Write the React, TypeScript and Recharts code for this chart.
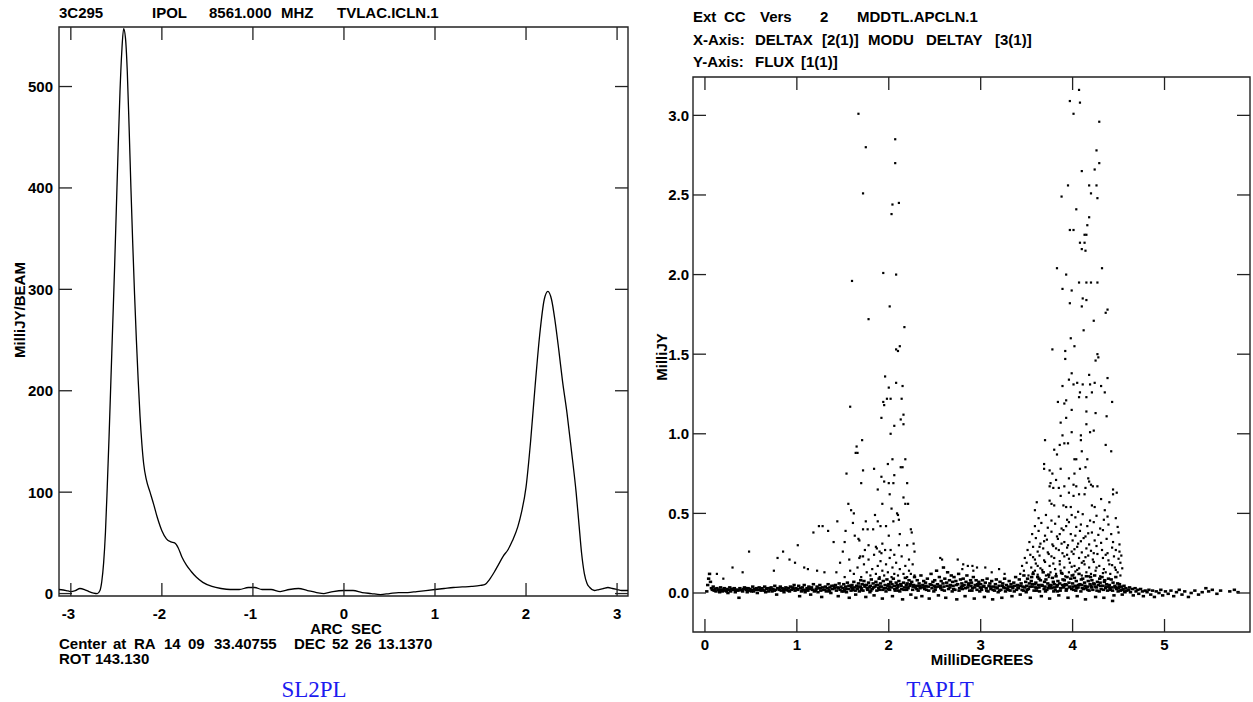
import { LineChart, Line, ScatterChart, Scatter, XAxis, YAxis, ReferenceArea } from "recharts";

// ---- left panel: slice profile (ARC SEC vs MilliJY/BEAM)
const SLICE_X = [
  -3.13, -3.05, -3.0, -2.95, -2.9, -2.85, -2.8, -2.75, -2.71, -2.68, -2.66, -2.64, -2.62, -2.6, -2.58,
  -2.56, -2.54, -2.52, -2.5, -2.48, -2.46, -2.44, -2.42, -2.4, -2.38, -2.36, -2.34, -2.32, -2.3, -2.28,
  -2.26, -2.24, -2.22, -2.2, -2.17, -2.13, -2.09, -2.05, -2.0, -1.95, -1.9, -1.86, -1.82, -1.78, -1.73,
  -1.68, -1.62, -1.55, -1.45, -1.35, -1.25, -1.15, -1.05, -0.98, -0.9, -0.8, -0.7, -0.6, -0.5, -0.4,
  -0.3, -0.22, -0.12, 0.0, 0.1, 0.2, 0.3, 0.4, 0.5, 0.6, 0.7, 0.8, 0.9, 1.0, 1.1, 1.2, 1.3, 1.4, 1.5,
  1.55, 1.6, 1.65, 1.7, 1.75, 1.8, 1.85, 1.91, 1.95, 2.0, 2.05, 2.1, 2.15, 2.2, 2.24, 2.28, 2.32, 2.36,
  2.4, 2.45, 2.5, 2.55, 2.58, 2.61, 2.64, 2.67, 2.7, 2.75, 2.8, 2.85, 2.9, 2.95, 3.0, 3.05, 3.12,
];
const SLICE_Y = [
  4, 3, 2, 3, 5, 4, 2, 0.5, 0, 3, 12, 30, 60, 105, 155,
  210, 265, 320, 380, 440, 495, 535, 557, 548, 515, 460, 400, 345, 295, 250,
  210, 175, 148, 128, 112, 100, 88, 75, 62, 54, 51, 50, 45, 36, 28,
  22, 16, 11, 7, 5, 4, 4, 6, 6, 4, 4, 2, 4, 5, 3,
  1, 0, 2, 3, 3, 1, 0, -1, 0, 1, 1, 2, 3, 4, 5, 6, 6.5, 7, 8,
  9, 14, 21, 29, 37, 43, 52, 66, 80, 105, 150, 205, 255, 290, 298, 290, 268, 240,
  210, 178, 140, 100, 70, 40, 20, 10, 6, 3, 4, 5, 6, 5, 4, 3, 3,
];
const ARC_TICKS = [-3, -2, -1, 0, 1, 2, 3];
const BEAM_TICKS = [0, 100, 200, 300, 400, 500];

// ---- right panel: clean components, flux vs radius (x, y pairs)
const BAND = [
  0.02, 0.01, 0.03, 0.05, 0.04, 0.09, 0.05, 0.12, 0.06, 0.07, 0.07, 0.03, 0.08, 0.02, 0.09, 0.04, 0.1, 0.015,
  0.11, 0.025, 0.12, 0.01, 0.13, 0.03, 0.15, 0.02, 0.16, 0.005, 0.17, 0.035, 0.18, 0.02, 0.19, 0.01,
  0.21, 0.03, 0.22, 0.015, 0.24, 0.025, 0.25, 0.0, 0.26, 0.02, 0.27, 0.035, 0.28, 0.01, 0.29, 0.025,
  0.31, 0.02, 0.32, 0.03, 0.33, 0.005, 0.34, 0.02, 0.36, 0.015, 0.37, -0.03, 0.38, 0.03, 0.39, 0.02,
  0.41, 0.01, 0.42, 0.025, 0.43, 0.035, 0.45, 0.02, 0.46, 0.005, 0.47, 0.03, 0.48, 0.015, 0.49, 0.025,
  0.51, 0.02, 0.52, 0.04, 0.53, 0.01, 0.54, 0.025, 0.56, 0.03, 0.57, 0.0, 0.58, 0.02, 0.59, 0.035,
  0.61, 0.015, 0.62, 0.03, 0.63, 0.02, 0.65, 0.04, 0.66, 0.005, 0.67, 0.025, 0.68, 0.03, 0.69, 0.01,
  0.71, 0.02, 0.72, 0.035, 0.73, 0.01, 0.74, 0.025, 0.76, 0.045, 0.77, 0.02, 0.78, -0.01, 0.79, 0.03,
  0.81, 0.02, 0.82, 0.04, 0.83, 0.015, 0.84, 0.03, 0.86, 0.005, 0.87, 0.025, 0.88, 0.035, 0.89, 0.02,
  0.91, 0.03, 0.92, 0.01, 0.93, 0.04, 0.94, 0.02, 0.96, 0.025, 0.97, 0.05, 0.98, 0.015, 0.99, 0.03,
  1.01, 0.02, 1.02, 0.045, 1.03, -0.02, 1.04, 0.03, 1.05, 0.01, 1.06, 0.035, 1.07, 0.02, 1.08, 0.05, 1.09, 0.005,
  1.11, 0.03, 1.12, 0.015, 1.13, 0.04, 1.14, 0.025, 1.15, -0.01, 1.16, 0.035, 1.17, 0.02, 1.18, 0.055, 1.19, 0.01,
  1.21, 0.025, 1.22, 0.04, 1.23, 0.005, 1.24, 0.03, 1.25, 0.05, 1.26, 0.015, 1.27, -0.025, 1.28, 0.035, 1.29, 0.02,
  1.31, 0.04, 1.32, 0.01, 1.33, 0.03, 1.34, 0.055, 1.35, 0.02, 1.36, 0.035, 1.37, 0.0, 1.38, 0.045, 1.39, 0.025,
  1.41, 0.03, 1.42, 0.05, 1.43, 0.015, 1.44, 0.035, 1.45, -0.02, 1.46, 0.06, 1.47, 0.02, 1.48, 0.04, 1.49, 0.01,
  1.5, 0.03, 1.51, 0.055, 1.52, 0.02, 1.53, 0.04, 1.54, 0.005, 1.55, 0.065, 1.56, 0.025, 1.57, -0.03, 1.58, 0.045, 1.59, 0.015, 1.595, 0.035,
  1.6, 0.05, 1.61, 0.02, 1.62, 0.07, 1.63, 0.035, 1.64, -0.01, 1.65, 0.045, 1.66, 0.025, 1.67, 0.06, 1.68, 0.01, 1.69, 0.04, 1.695, 0.08,
  1.7, 0.03, 1.71, 0.055, 1.72, 0.015, 1.73, 0.075, 1.74, 0.04, 1.75, -0.025, 1.76, 0.05, 1.77, 0.02, 1.78, 0.065, 1.79, 0.035, 1.795, 0.005,
  1.8, 0.045, 1.81, 0.085, 1.82, 0.025, 1.83, 0.06, 1.84, -0.015, 1.85, 0.04, 1.86, 0.07, 1.87, 0.015, 1.88, 0.05, 1.89, 0.03, 1.895, 0.09,
  1.9, 0.02, 1.91, 0.06, 1.92, 0.04, 1.93, -0.035, 1.94, 0.075, 1.95, 0.03, 1.96, 0.05, 1.97, 0.01, 1.98, 0.085, 1.99, 0.045, 1.995, 0.025,
  2.0, 0.055, 2.01, 0.02, 2.02, 0.07, 2.03, 0.035, 2.04, -0.02, 2.05, 0.09, 2.06, 0.045, 2.07, 0.015, 2.08, 0.065, 2.09, 0.03, 2.095, 0.05,
  2.1, 0.04, 2.11, 0.075, 2.12, 0.01, 2.13, 0.055, 2.14, 0.025, 2.15, -0.04, 2.16, 0.065, 2.17, 0.035, 2.18, 0.095, 2.19, 0.05, 2.195, 0.02,
  2.2, 0.06, 2.21, 0.03, 2.22, 0.08, 2.23, 0.045, 2.24, -0.01, 2.25, 0.07, 2.26, 0.02, 2.27, 0.05, 2.28, 0.1, 2.29, 0.035, 2.295, -0.03,
  2.3, 0.045, 2.31, 0.08, 2.32, 0.015, 2.33, 0.06, 2.34, 0.03, 2.35, 0.11, 2.36, -0.02, 2.37, 0.05, 2.38, 0.075, 2.39, 0.025, 2.395, 0.04,
  2.4, 0.065, 2.41, 0.02, 2.42, 0.09, 2.43, 0.04, 2.44, -0.035, 2.45, 0.055, 2.46, 0.12, 2.47, 0.03, 2.48, 0.07, 2.49, 0.01, 2.495, 0.045,
  2.5, 0.08, 2.51, 0.035, 2.52, 0.14, 2.53, 0.055, 2.54, -0.015, 2.55, 0.1, 2.56, 0.045, 2.57, 0.075, 2.58, 0.02, 2.59, 0.06, 2.595, 0.16,
  2.6, 0.04, 2.61, 0.09, 2.62, -0.03, 2.63, 0.065, 2.64, 0.13, 2.65, 0.025, 2.66, 0.08, 2.67, 0.05, 2.68, 0.11, 2.69, 0.01, 2.695, 0.07,
  2.7, 0.045, 2.71, 0.1, 2.72, 0.02, 2.73, 0.075, 2.74, -0.04, 2.75, 0.055, 2.76, 0.12, 2.77, 0.03, 2.78, 0.085, 2.79, 0.04, 2.795, 0.06,
  2.8, 0.025, 2.81, 0.09, 2.82, 0.05, 2.83, -0.02, 2.84, 0.07, 2.85, 0.11, 2.86, 0.035, 2.87, 0.06, 2.88, 0.015, 2.89, 0.08, 2.895, 0.045,
  2.9, 0.065, 2.91, 0.03, 2.92, 0.1, 2.93, -0.035, 2.94, 0.05, 2.95, 0.08, 2.96, 0.02, 2.97, 0.045, 2.98, 0.07, 2.99, 0.01, 2.995, 0.035,
  3.0, 0.055, 3.01, 0.02, 3.02, 0.08, 3.03, 0.04, 3.04, -0.025, 3.05, 0.065, 3.06, 0.03, 3.07, 0.09, 3.08, 0.01, 3.09, 0.045,
  3.1, 0.06, 3.11, 0.025, 3.12, 0.075, 3.13, -0.04, 3.14, 0.04, 3.15, 0.015, 3.16, 0.055, 3.17, 0.085, 3.18, 0.03, 3.19, 0.005,
  3.2, 0.045, 3.21, 0.07, 3.22, 0.02, 3.23, -0.03, 3.24, 0.06, 3.25, 0.035, 3.26, 0.09, 3.27, 0.01, 3.28, 0.05, 3.29, 0.025,
  3.3, 0.04, 3.31, 0.075, 3.32, 0.015, 3.33, 0.055, 3.34, -0.02, 3.35, 0.03, 3.36, 0.065, 3.37, 0.045, 3.38, 0.1, 3.39, 0.02,
  3.4, 0.05, 3.41, 0.03, 3.42, 0.085, 3.43, -0.01, 3.44, 0.06, 3.45, 0.02, 3.46, 0.04, 3.47, 0.11, 3.48, 0.035, 3.49, 0.07, 3.495, 0.005,
  3.5, 0.045, 3.51, 0.09, 3.52, 0.025, 3.53, 0.06, 3.54, -0.03, 3.55, 0.075, 3.56, 0.04, 3.57, 0.12, 3.58, 0.015, 3.59, 0.055, 3.595, 0.035, 3.555, 0.1,
  3.6, 0.065, 3.61, 0.03, 3.62, 0.1, 3.63, 0.05, 3.64, 0.01, 3.65, 0.08, 3.66, -0.02, 3.67, 0.045, 3.68, 0.13, 3.69, 0.025, 3.695, 0.07, 3.635, 0.09,
  3.7, 0.04, 3.71, 0.085, 3.72, 0.02, 3.73, 0.06, 3.74, 0.115, 3.75, -0.035, 3.76, 0.05, 3.77, 0.03, 3.78, 0.095, 3.79, 0.07, 3.795, 0.01, 3.745, 0.045,
  3.8, 0.055, 3.81, 0.02, 3.82, 0.105, 3.83, 0.04, 3.84, 0.075, 3.85, -0.015, 3.86, 0.06, 3.87, 0.03, 3.88, 0.125, 3.89, 0.05, 3.895, 0.085, 3.835, 0.01,
  3.9, 0.035, 3.91, 0.08, 3.92, 0.055, 3.93, 0.015, 3.94, 0.1, 3.95, -0.03, 3.96, 0.065, 3.97, 0.04, 3.98, 0.09, 3.99, 0.025, 3.995, 0.11, 3.935, 0.05,
  4.0, 0.06, 4.01, 0.02, 4.02, 0.095, 4.03, 0.045, 4.04, 0.075, 4.05, -0.02, 4.06, 0.035, 4.07, 0.12, 4.08, 0.055, 4.09, 0.01, 4.095, 0.085, 4.045, 0.03,
  4.1, 0.05, 4.11, 0.09, 4.12, 0.025, 4.13, 0.065, 4.14, -0.04, 4.15, 0.105, 4.16, 0.04, 4.17, 0.075, 4.18, 0.015, 4.19, 0.055, 4.195, 0.1, 4.145, 0.03,
  4.2, 0.045, 4.21, 0.08, 4.22, 0.02, 4.23, 0.06, 4.24, 0.11, 4.25, -0.025, 4.26, 0.035, 4.27, 0.07, 4.28, 0.05, 4.29, 0.01, 4.295, 0.09, 4.245, 0.04,
  4.3, 0.065, 4.31, 0.025, 4.32, 0.1, 4.33, 0.045, 4.34, -0.03, 4.35, 0.08, 4.36, 0.03, 4.37, 0.055, 4.38, 0.015, 4.39, 0.09, 4.395, 0.04, 4.345, 0.07,
  4.4, 0.05, 4.41, 0.02, 4.42, 0.085, 4.43, 0.035, 4.44, 0.065, 4.45, -0.015, 4.46, 0.045, 4.47, 0.1, 4.48, 0.025, 4.49, 0.06, 4.495, 0.01, 4.435, -0.05,
  4.5, 0.03, 4.51, 0.055, 4.52, 0.015, 4.53, 0.04, 4.54, -0.01, 4.55, 0.025, 4.56, 0.045, 4.57, 0.005, 4.58, 0.03, 4.59, 0.015,
];
// extra points inside the dark core of the band
const CORE = [
  0.145, 0.02, 0.205, 0.02, 0.235, 0.01, 0.305, 0.025, 0.355, 0.02, 0.405, 0.015, 0.445, 0.03, 0.505, 0.01, 0.555, 0.02,
  0.605, 0.025, 0.645, 0.015, 0.705, 0.03, 0.755, 0.015, 0.805, 0.03, 0.855, 0.02, 0.905, 0.015, 0.955, 0.035, 1.005, 0.025,
  1.055, 0.015, 1.105, 0.02, 1.155, 0.03, 1.205, 0.015, 1.255, 0.03, 1.305, 0.02, 1.355, 0.01, 1.405, 0.045, 1.455, 0.03,
  1.505, 0.01, 1.535, 0.025, 1.565, 0.045, 1.605, 0.03, 1.635, 0.015, 1.665, 0.04, 1.705, 0.02, 1.735, 0.05, 1.765, 0.03,
  1.805, 0.015, 1.835, 0.035, 1.865, 0.05, 1.905, 0.04, 1.935, 0.02, 1.965, 0.03, 2.005, 0.04, 2.035, 0.055, 2.065, 0.025,
  2.105, 0.015, 2.135, 0.045, 2.165, 0.02, 2.205, 0.035, 2.235, 0.055, 2.265, 0.04, 2.305, 0.025, 2.335, 0.045, 2.365, 0.035,
  2.405, 0.045, 2.435, 0.015, 2.465, 0.05, 2.505, 0.02, 2.535, 0.04, 2.565, 0.03, 2.605, 0.015, 2.635, 0.045, 2.665, 0.035,
  2.705, 0.025, 2.735, 0.05, 2.765, 0.015, 2.805, 0.045, 2.835, 0.03, 2.865, 0.05, 2.905, 0.015, 2.935, 0.035, 2.965, 0.055,
  3.005, 0.03, 3.035, 0.045, 3.065, 0.015, 3.105, 0.04, 3.135, 0.02, 3.165, 0.035, 3.205, 0.015, 3.235, 0.045, 3.265, 0.03,
  3.305, 0.02, 3.335, 0.04, 3.365, 0.01, 3.405, 0.035, 3.435, 0.045, 3.465, 0.015, 3.505, 0.02, 3.535, 0.04, 3.565, 0.055,
  3.605, 0.015, 3.635, 0.035, 3.665, 0.05, 3.705, 0.01, 3.735, 0.03, 3.765, 0.045, 3.805, 0.035, 3.835, 0.05, 3.865, 0.015,
  3.905, 0.045, 3.935, 0.025, 3.965, 0.035, 4.005, 0.04, 4.035, 0.015, 4.065, 0.05, 4.105, 0.03, 4.135, 0.045, 4.165, 0.02,
  4.205, 0.035, 4.235, 0.055, 4.265, 0.015, 4.305, 0.045, 4.335, 0.02, 4.365, 0.04, 4.405, 0.03, 4.435, 0.015, 4.465, 0.035,
  4.505, 0.04, 4.535, 0.02, 4.565, 0.01,
];
const TAIL = [
  4.61, 0.02, 4.62, 0.035, 4.63, 0.005, 4.65, 0.025, 4.66, -0.015, 4.68, 0.03, 4.69, 0.01,
  4.71, 0.02, 4.72, -0.005, 4.74, 0.025, 4.76, 0.01, 4.77, -0.02, 4.79, 0.015,
  4.81, 0.005, 4.83, 0.02, 4.85, -0.01, 4.87, 0.015, 4.89, -0.025, 4.91, 0.01, 4.94, 0.0, 4.96, 0.02, 4.98, -0.015,
  5.01, 0.01, 5.04, -0.005, 5.07, 0.015, 5.1, -0.02, 5.13, 0.005, 5.16, 0.02, 5.19, -0.01, 5.22, 0.01, 5.26, -0.025, 5.29, 0.0,
  5.33, 0.015, 5.37, -0.01, 5.41, 0.005, 5.45, 0.03, 5.48, 0.01, 5.52, 0.02, 5.57, -0.005, 5.61, 0.015, 5.71, 0.01, 5.76, 0.02, 5.8, 0.005,
];
const SPIKE_A = [
  1.67, 3.01, 2.07, 2.85, 1.75, 2.8, 2.07, 2.7, 1.72, 2.51, 2.11, 2.45, 2.04, 2.44, 2.03, 2.38, 1.94, 2.01, 2.08, 2.0,
  1.6, 1.96, 2.01, 1.8, 1.78, 1.72, 2.17, 1.67, 2.08, 1.53, 2.1, 1.52, 2.12, 1.55, 1.96, 1.36, 2.08, 1.32, 2.15, 1.3,
  2.0, 1.29, 1.98, 1.22, 2.02, 1.22, 2.14, 1.22, 1.94, 1.2, 1.95, 1.18, 1.58, 1.17, 1.92, 1.1, 2.16, 1.12, 2.13, 1.09,
  2.16, 1.06, 2.06, 1.05, 2.02, 1.0, 1.71, 0.96, 1.65, 0.92, 1.64, 0.88, 1.66, 0.88, 2.18, 0.84, 2.04, 0.84, 1.99, 0.81,
  2.15, 0.79, 2.13, 0.79, 1.84, 0.78, 1.72, 0.77, 1.54, 0.75, 1.92, 0.73, 2.06, 0.74, 1.7, 0.69, 1.95, 0.7, 2.0, 0.69,
  2.05, 0.69, 2.2, 0.69, 1.88, 0.65, 2.01, 0.62, 2.16, 0.6, 1.93, 0.56, 2.18, 0.56, 2.21, 0.56, 1.56, 0.56, 1.59, 0.52,
  2.03, 0.53, 1.62, 0.5, 1.85, 0.49, 2.09, 0.5, 2.1, 0.49, 1.44, 0.45, 1.75, 0.45, 1.88, 0.45, 2.05, 0.45, 2.11, 0.46,
  1.61, 0.44, 1.24, 0.42, 1.28, 0.42, 1.34, 0.39, 1.18, 0.38, 1.53, 0.39, 1.72, 0.4, 1.77, 0.4, 1.83, 0.4, 1.91, 0.42,
  1.97, 0.42, 2.0, 0.36, 2.12, 0.37, 2.24, 0.4, 2.25, 0.38, 1.63, 0.36, 1.67, 0.34, 1.68, 0.33, 1.4, 0.32, 1.52, 0.32,
  1.78, 0.3, 1.86, 0.29, 1.01, 0.3, 1.9, 0.26, 1.92, 0.25, 1.96, 0.27, 2.06, 0.24, 2.2, 0.3, 2.27, 0.31, 2.28, 0.26,
  0.48, 0.26, 0.85, 0.26, 0.79, 0.22, 0.92, 0.21, 0.98, 0.19, 1.5, 0.26, 1.57, 0.21, 1.69, 0.23, 1.72, 0.23, 1.47, 0.19,
  0.3, 0.16, 0.41, 0.13, 0.75, 0.14, 1.08, 0.16, 1.12, 0.15, 1.22, 0.14, 1.3, 0.13, 1.43, 0.13, 2.22, 0.21, 2.56, 0.22,
  2.58, 0.21, 2.75, 0.21, 2.81, 0.18, 2.91, 0.17, 2.96, 0.16, 0.13, 0.12, 0.2, 0.09,
  1.62, 0.12, 1.66, 0.16, 1.7, 0.1, 1.73, 0.18, 1.76, 0.13, 1.78, 0.21, 1.8, 0.11, 1.82, 0.15, 1.84, 0.24, 1.86, 0.12,
  1.88, 0.17, 1.9, 0.1, 1.91, 0.2, 1.93, 0.14, 1.95, 0.11, 1.97, 0.18, 1.99, 0.13, 2.01, 0.22, 2.03, 0.1, 2.04, 0.16,
  2.06, 0.12, 2.08, 0.19, 2.1, 0.11, 2.12, 0.15, 2.14, 0.23, 2.16, 0.12, 2.18, 0.17, 2.2, 0.1, 2.22, 0.14, 2.24, 0.12,
  2.26, 0.18, 2.28, 0.11, 1.74, 0.27, 1.87, 0.28, 1.93, 0.31, 2.02, 0.27, 2.11, 0.3, 1.68, 0.22, 1.58, 0.14, 1.52, 0.1,
  2.8, 0.15, 2.86, 0.17, 2.92, 0.14, 3.05, 0.16, 3.12, 0.13, 3.2, 0.15, 3.26, 0.12,
];
const SPIKE_B = [
  4.07, 3.16, 3.97, 3.09, 4.08, 3.08, 4.01, 3.01, 4.29, 2.96, 4.26, 2.78, 4.29, 2.7, 4.24, 2.66, 4.1, 2.65, 3.95, 2.56,
  4.18, 2.56, 4.26, 2.56, 4.2, 2.51, 3.88, 2.49, 4.27, 2.48, 4.04, 2.41, 4.18, 2.36, 4.16, 2.31, 3.97, 2.28, 4.01, 2.28,
  4.13, 2.25, 4.15, 2.25, 4.08, 2.2, 4.13, 2.2, 4.1, 2.16, 4.14, 2.15, 3.83, 2.04, 4.32, 2.04, 3.93, 2.0, 4.07, 1.95,
  4.15, 1.95, 4.2, 1.95, 4.27, 1.95, 3.89, 1.91, 3.99, 1.9, 4.11, 1.85, 4.15, 1.84, 3.97, 1.82, 4.1, 1.8, 4.38, 1.78,
  4.36, 1.76, 4.23, 1.71, 4.12, 1.65, 3.98, 1.6, 4.02, 1.55, 3.78, 1.53, 3.92, 1.52, 3.92, 1.47, 4.27, 1.5, 4.28, 1.48,
  4.25, 1.46, 3.99, 1.38, 4.18, 1.37, 3.96, 1.34, 4.38, 1.35, 3.89, 1.3, 4.01, 1.31, 4.05, 1.32, 4.11, 1.31, 4.19, 1.31,
  4.24, 1.32, 4.31, 1.3, 4.08, 1.26, 4.21, 1.26, 4.35, 1.26, 4.07, 1.23, 4.15, 1.23, 3.84, 1.2, 3.91, 1.19, 3.93, 1.21,
  4.43, 1.2, 3.99, 1.15, 4.15, 1.14, 4.25, 1.13, 4.37, 1.11, 3.93, 1.1, 3.87, 1.07, 4.15, 1.06, 3.99, 1.01, 4.09, 0.99,
  4.19, 1.01, 4.23, 1.02, 3.89, 0.99, 3.7, 0.96, 4.09, 0.96, 3.86, 0.93, 3.91, 0.94, 3.95, 0.94, 4.36, 0.93, 3.8, 0.9,
  3.83, 0.87, 4.42, 0.89, 4.1, 0.89, 4.02, 0.84, 4.04, 0.84, 4.16, 0.84, 3.69, 0.81, 3.69, 0.78, 3.75, 0.77, 3.78, 0.75,
  3.87, 0.78, 4.02, 0.75, 4.08, 0.78, 4.14, 0.79, 3.96, 0.72, 3.82, 0.71, 4.17, 0.72, 4.18, 0.7, 3.76, 0.69, 3.75, 0.67,
  3.79, 0.66, 3.85, 0.66, 3.91, 0.67, 4.01, 0.68, 4.04, 0.67, 4.14, 0.66, 4.2, 0.68, 4.22, 0.67, 4.27, 0.67, 4.44, 0.65,
  4.48, 0.63, 4.44, 0.62, 3.87, 0.61, 3.96, 0.63, 4.01, 0.61, 4.07, 0.62, 4.13, 0.62, 3.61, 0.57, 3.75, 0.58, 3.77, 0.56,
  3.8, 0.55, 3.9, 0.55, 3.93, 0.54, 3.98, 0.54, 4.06, 0.51, 4.21, 0.55, 4.24, 0.54, 4.31, 0.59, 4.4, 0.57, 4.35, 0.52,
  4.38, 0.48, 3.59, 0.52,
  3.63, 0.47, 3.71, 0.49, 3.77, 0.455, 3.85, 0.48, 3.94, 0.46, 4.03, 0.475, 4.11, 0.495, 4.19, 0.455, 4.26, 0.485, 4.34, 0.46, 4.47, 0.47, 3.99, 0.49,
  3.59, 0.42, 3.66, 0.44, 3.73, 0.41, 3.81, 0.435, 3.88, 0.405, 3.96, 0.445, 4.04, 0.415, 4.09, 0.43, 4.16, 0.42, 4.23, 0.445, 4.3, 0.405, 4.39, 0.43, 4.49, 0.415, 3.93, 0.42,
  3.56, 0.37, 3.63, 0.39, 3.7, 0.36, 3.77, 0.385, 3.83, 0.355, 3.9, 0.395, 3.98, 0.37, 4.03, 0.36, 4.08, 0.39, 4.14, 0.355, 4.21, 0.38, 4.28, 0.365, 4.33, 0.395, 4.42, 0.37, 4.5, 0.38, 3.86, 0.37, 4.17, 0.375,
  3.53, 0.32, 3.6, 0.345, 3.65, 0.31, 3.72, 0.335, 3.78, 0.305, 3.84, 0.34, 3.91, 0.32, 3.95, 0.3, 4.0, 0.33, 4.06, 0.31, 4.12, 0.345, 4.18, 0.305, 4.24, 0.33, 4.31, 0.315, 4.37, 0.34, 4.44, 0.32, 4.51, 0.305, 3.69, 0.325, 3.88, 0.31, 4.09, 0.325,
  3.51, 0.27, 3.57, 0.29, 3.62, 0.26, 3.68, 0.28, 3.73, 0.255, 3.79, 0.295, 3.85, 0.27, 3.89, 0.25, 3.94, 0.285, 3.99, 0.26, 4.05, 0.29, 4.1, 0.255, 4.15, 0.28, 4.2, 0.265, 4.26, 0.295, 4.32, 0.27, 4.38, 0.25, 4.43, 0.285, 4.51, 0.26, 3.64, 0.29, 3.82, 0.28, 4.02, 0.275, 4.23, 0.25, 4.47, 0.27,
  3.48, 0.22, 3.54, 0.24, 3.59, 0.21, 3.64, 0.235, 3.69, 0.205, 3.74, 0.245, 3.8, 0.22, 3.86, 0.2, 3.91, 0.23, 3.96, 0.215, 4.01, 0.245, 4.07, 0.22, 4.12, 0.2, 4.17, 0.235, 4.22, 0.21, 4.27, 0.245, 4.33, 0.22, 4.39, 0.205, 4.45, 0.23, 4.5, 0.215, 3.57, 0.225, 3.77, 0.23, 3.94, 0.24, 4.14, 0.225, 4.36, 0.24, 4.53, 0.235,
  3.45, 0.17, 3.5, 0.19, 3.55, 0.16, 3.6, 0.185, 3.65, 0.155, 3.7, 0.195, 3.75, 0.17, 3.81, 0.15, 3.86, 0.18, 3.91, 0.16, 3.97, 0.19, 4.02, 0.17, 4.07, 0.155, 4.13, 0.18, 4.18, 0.16, 4.23, 0.195, 4.29, 0.17, 4.34, 0.15, 4.4, 0.18, 4.46, 0.16, 4.52, 0.19, 3.62, 0.17, 3.79, 0.185, 3.99, 0.165, 4.1, 0.19, 4.26, 0.16, 4.43, 0.175, 4.54, 0.155,
  3.43, 0.12, 3.47, 0.14, 3.52, 0.11, 3.57, 0.13, 3.62, 0.115, 3.67, 0.145, 3.71, 0.11, 3.76, 0.13, 3.82, 0.12, 3.87, 0.14, 3.92, 0.105, 3.96, 0.13, 4.01, 0.115, 4.05, 0.145, 4.1, 0.11, 4.15, 0.13, 4.2, 0.12, 4.25, 0.14, 4.3, 0.105, 4.36, 0.13, 4.41, 0.12, 4.47, 0.145, 4.52, 0.11, 3.59, 0.14, 3.74, 0.1, 3.89, 0.12, 4.03, 0.135, 4.18, 0.105, 4.33, 0.125, 4.49, 0.13,
];
const DEG_TICKS = [0, 1, 2, 3, 4, 5];
const FLUX_TICKS = [0, 0.5, 1, 1.5, 2, 2.5, 3];

const INK = "#222";
const TICK = 13;
const FONT = '"Liberation Sans", Arial, sans-serif';
const AXIS_TEXT = { fontFamily: FONT, fontWeight: 700, fontSize: 15, fill: "#000" };
const DIGIT_HALF = 4.2; // negative labels keep the digit on the tick, minus hangs left

const pairs = (flat: number[]) => {
  const out: { x: number; y: number }[] = [];
  for (let i = 0; i < flat.length; i += 2) out.push({ x: flat[i], y: flat[i + 1] });
  return out;
};

const sliceData = SLICE_X.map((x, i) => ({ x, y: SLICE_Y[i] }));
const bandData = [...pairs(BAND), ...pairs(CORE), ...pairs(TAIL)];
const spikeData = [...pairs(SPIKE_A), ...pairs(SPIKE_B)];

// inward tick marks on both opposite edges, label outside
function xTick(plotTop: number, labelDy: number, fmt: (v: number) => string) {
  return (p: any) => {
    const v = p.payload.value as number;
    const neg = v < 0;
    return (
      <g>
        <line x1={p.x} x2={p.x} y1={p.y} y2={p.y - TICK} stroke={INK} strokeWidth={1.3} />
        <line x1={p.x} x2={p.x} y1={plotTop} y2={plotTop + TICK} stroke={INK} strokeWidth={1.3} />
        <text
          x={neg ? p.x + DIGIT_HALF : p.x}
          y={p.y + labelDy}
          textAnchor={neg ? "end" : "middle"}
          dominantBaseline="central"
          style={AXIS_TEXT}
        >
          {fmt(v)}
        </text>
      </g>
    );
  };
}

function yTick(plotRight: number, gap: number, fmt: (v: number) => string) {
  return (p: any) => (
    <g>
      <line x1={p.x} x2={p.x + TICK} y1={p.y} y2={p.y} stroke={INK} strokeWidth={1.3} />
      <line x1={plotRight} x2={plotRight - TICK} y1={p.y} y2={p.y} stroke={INK} strokeWidth={1.3} />
      <text x={p.x - gap} y={p.y} textAnchor="end" dominantBaseline="central" style={AXIS_TEXT}>
        {fmt(p.payload.value)}
      </text>
    </g>
  );
}

const SpikeDot = (p: any) => <rect x={p.cx - 1.1} y={p.cy - 1.1} width={2.2} height={2.2} fill="#000" />;
const BandDot = (p: any) => <rect x={p.cx - 1.7} y={p.cy - 1.3} width={3.4} height={2.6} fill="#000" />;

type Word = [string, number];
const LEFT_TITLE: Word[] = [["3C295", 59], ["IPOL", 152], ["8561.000", 209], ["MHZ", 281], ["TVLAC.ICLN.1", 337]];
const CENTER_LINE: Word[] = [
  ["Center", 59], ["at", 113], ["RA", 134], ["14", 164], ["09", 188], ["33.40755", 214],
  ["DEC", 294], ["52", 332], ["26", 355], ["13.1370", 378],
];
const ROT_LINE: Word[] = [["ROT", 59], ["143.130", 95]];
const RIGHT_L1: Word[] = [["Ext", 693], ["CC", 724], ["Vers", 760], ["2", 820], ["MDDTL.APCLN.1", 857]];
const RIGHT_L2: Word[] = [["X-Axis:", 693], ["DELTAX", 755], ["[2(1)]", 822], ["MODU", 868], ["DELTAY", 926], ["[3(1)]", 995]];
const RIGHT_L3: Word[] = [["Y-Axis:", 693], ["FLUX", 755], ["[1(1)]", 801]];

const labelStyle: React.CSSProperties = {
  position: "absolute",
  fontFamily: FONT,
  fontWeight: 700,
  fontSize: 15,
  lineHeight: "16px",
  whiteSpace: "pre",
  color: "#000",
};

function Words({ words, cy }: { words: Word[]; cy: number }) {
  return (
    <>
      {words.map(([w, x]) => (
        <div key={w + x} style={{ ...labelStyle, left: x, top: cy - 8 }}>
          {w}
        </div>
      ))}
    </>
  );
}

function Centered({ text, cx, cy, rotate = false }: { text: string; cx: number; cy: number; rotate?: boolean }) {
  return (
    <div
      style={{
        ...labelStyle,
        left: cx,
        top: cy,
        transform: `translate(-50%, -50%)${rotate ? " rotate(-90deg)" : ""}`,
      }}
    >
      {text}
    </div>
  );
}

const taskStyle: React.CSSProperties = {
  position: "absolute",
  fontFamily: '"Liberation Serif", "DejaVu Serif", serif',
  fontSize: 23,
  color: "#1c1cf0",
  transform: "translate(-50%, -50%)",
  whiteSpace: "pre",
};

export default function App() {
  return (
    <div style={{ position: "absolute", left: 0, top: 0, width: 1253, height: 702, background: "#fff" }}>
      {/* left: SL2PL slice */}
      <div style={{ position: "absolute", left: 0, top: 0 }}>
        <LineChart width={640} height={700} data={sliceData} margin={{ top: 27, left: 58, right: 12, bottom: 103 }}>
          <XAxis
            type="number"
            dataKey="x"
            domain={[-3.13, 3.12]}
            allowDataOverflow
            ticks={ARC_TICKS}
            interval={0}
            height={1}
            tickSize={0}
            tickMargin={0}
            axisLine={false}
            tickLine={false}
            tick={xTick(27, 17, (v) => String(v))}
          />
          <YAxis
            type="number"
            dataKey="y"
            domain={[-2.4, 558.7]}
            allowDataOverflow
            ticks={BEAM_TICKS}
            interval={0}
            width={1}
            tickSize={0}
            tickMargin={0}
            axisLine={false}
            tickLine={false}
            tick={yTick(628, 6, (v) => String(v))}
          />
          <ReferenceArea x1={-3.13} x2={3.12} y1={-2.4} y2={558.7} fill="none" stroke={INK} strokeWidth={1.4} ifOverflow="visible" />
          <Line type="monotone" dataKey="y" stroke="#000" strokeWidth={1.3} dot={false} isAnimationActive={false} />
        </LineChart>
      </div>

      {/* right: TAPLT clean components */}
      <div style={{ position: "absolute", left: 640, top: 0 }}>
        <ScatterChart width={613} height={700} margin={{ top: 77, left: 52, right: 3, bottom: 67 }}>
          <XAxis
            type="number"
            dataKey="x"
            domain={[-0.13, 5.93]}
            allowDataOverflow
            ticks={DEG_TICKS}
            interval={0}
            height={1}
            tickSize={0}
            tickMargin={0}
            axisLine={false}
            tickLine={false}
            tick={xTick(77, 12, (v) => String(v))}
          />
          <YAxis
            type="number"
            dataKey="y"
            domain={[-0.245, 3.241]}
            allowDataOverflow
            ticks={FLUX_TICKS}
            interval={0}
            width={1}
            tickSize={0}
            tickMargin={0}
            axisLine={false}
            tickLine={false}
            tick={yTick(610, 4, (v) => v.toFixed(1))}
          />
          <ReferenceArea x1={-0.13} x2={5.93} y1={-0.245} y2={3.241} fill="none" stroke={INK} strokeWidth={1.4} ifOverflow="visible" />
          <Scatter data={bandData} fill="#000" shape={BandDot} isAnimationActive={false} />
          <Scatter data={spikeData} fill="#000" shape={SpikeDot} isAnimationActive={false} />
        </ScatterChart>
      </div>

      <Words words={LEFT_TITLE} cy={13} />
      <Words words={CENTER_LINE} cy={644} />
      <Words words={ROT_LINE} cy={659} />
      <Centered text="ARC  SEC" cx={346} cy={629} />
      <Centered text="MilliJY/BEAM" cx={20} cy={310} rotate />

      <Words words={RIGHT_L1} cy={17} />
      <Words words={RIGHT_L2} cy={40} />
      <Words words={RIGHT_L3} cy={62} />
      <Centered text="MilliDEGREES" cx={982} cy={660} />
      <Centered text="MilliJY" cx={662} cy={357} rotate />

      <div style={{ ...taskStyle, left: 314, top: 690 }}>SL2PL</div>
      <div style={{ ...taskStyle, left: 940, top: 690 }}>TAPLT</div>
    </div>
  );
}
